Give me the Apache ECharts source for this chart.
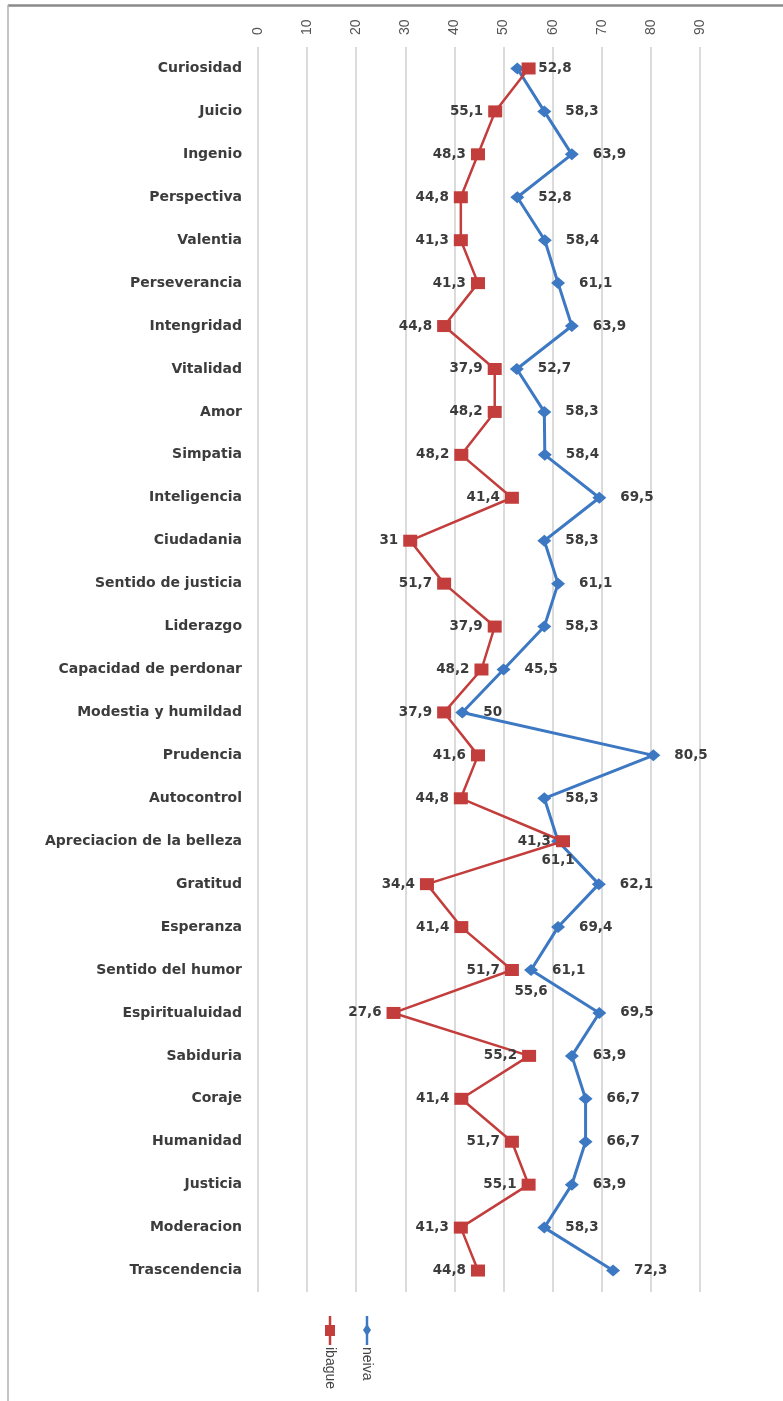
<!DOCTYPE html>
<html>
<head>
<meta charset="utf-8">
<script src="https://cdn.jsdelivr.net/npm/echarts@6/dist/echarts.min.js"></script>
<style>
html,body{margin:0;padding:0;background:#fff;}
#chart{width:783px;height:1401px;}
</style>
</head>
<body>
<div id="chart"></div>
<script>
const categories = ['Curiosidad','Juicio','Ingenio','Perspectiva','Valentia','Perseverancia','Intengridad','Vitalidad','Amor','Simpatia','Inteligencia','Ciudadania','Sentido de justicia','Liderazgo','Capacidad de perdonar','Modestia y humildad','Prudencia','Autocontrol','Apreciacion de la belleza','Gratitud','Esperanza','Sentido del humor','Espiritualuidad','Sabiduria','Coraje','Humanidad','Justicia','Moderacion','Trascendencia'];

const ibague = [55.1,48.3,44.8,41.3,41.3,44.8,37.9,48.2,48.2,41.4,51.7,31,37.9,48.2,45.5,37.9,44.8,41.3,62.1,34.4,41.4,51.7,27.6,55.2,41.4,51.7,55.1,41.3,44.8];
const neiva = [52.8,58.3,63.9,52.8,58.4,61.1,63.9,52.7,58.3,58.4,69.5,58.3,61.1,58.3,50,41.6,80.5,58.3,61.1,69.4,61.1,55.6,69.5,63.9,66.7,66.7,63.9,58.3,72.3];

const ibagueLabels = ['','55,1','48,3','44,8','41,3','41,3','44,8','37,9','48,2','48,2','41,4','31','51,7','37,9','48,2','37,9','41,6','44,8','41,3','34,4','41,4','51,7','27,6','55,2','41,4','51,7','55,1','41,3','44,8'];
const neivaLabels = ['52,8','58,3','63,9','52,8','58,4','61,1','63,9','52,7','58,3','58,4','69,5','58,3','61,1','58,3','45,5','50','80,5','58,3','61,1','62,1','69,4','61,1','69,5','63,9','66,7','66,7','63,9','58,3','72,3'];

// extra free label shown under the neiva point of "Sentido del humor"
const extraCats = ['Sentido del humor'];
const extraVals = [55.6];
const extraTexts = ['55,6'];

const seriesNames = ['ibague','neiva'];
const axisMin = 0, axisMax = 90, axisStep = 10;

const RED = '#c23d3b';
const BLUE = '#3d78c3';
const LABEL_FONT = {fontFamily:'DejaVu Sans', fontWeight:'bold', fontSize:13.5, color:'#3c3c3c'};

const chart = echarts.init(document.getElementById('chart'), null, {renderer:'canvas'});

const neivaData = neiva.map((v,i) => {
  if (categories[i] === 'Apreciacion de la belleza') {
    return {value:v, label:{position:'bottom', distance:6}};
  }
  return v;
});

const option = {
  animation:false,
  backgroundColor:'#fff',
  grid:{left:258, right:83, top:47, bottom:109, containLabel:false},
  xAxis:{
    type:'value', position:'top', min:axisMin, max:axisMax, interval:axisStep,
    axisLine:{show:false}, axisTick:{show:false},
    splitLine:{show:true, lineStyle:{color:'#cfcfcf', width:1.5}},
    axisLabel:{rotate:-90, margin:12, color:'#555', fontSize:14, fontFamily:'Liberation Sans'}
  },
  yAxis:{
    type:'category', inverse:true, data:categories,
    axisLine:{show:false}, axisTick:{show:false}, splitLine:{show:false},
    axisLabel:Object.assign({margin:16}, LABEL_FONT, {fontSize:14})
  },
  series:[
    {
      name:'extra', type:'scatter', symbol:'circle', symbolSize:1,
      itemStyle:{color:BLUE, opacity:1},
      data:extraCats.map((c,i) => [extraVals[i], c]),
      label:Object.assign({show:true, position:'bottom', distance:14, opacity:1,
        formatter:p => extraTexts[p.dataIndex]}, LABEL_FONT),
      z:1
    },
    {
      name:seriesNames[1], type:'line', data:neivaData,
      symbol:'diamond', symbolSize:[14,12], showAllSymbol:true,
      lineStyle:{color:BLUE, width:3}, itemStyle:{color:BLUE},
      label:Object.assign({show:true, position:'right', distance:14,
        formatter:p => neivaLabels[p.dataIndex]}, LABEL_FONT),
      z:2
    },
    {
      name:seriesNames[0], type:'line', data:ibague,
      symbol:'rect', symbolSize:[14,12], showAllSymbol:true,
      lineStyle:{color:RED, width:2.5}, itemStyle:{color:RED},
      label:Object.assign({show:true, position:'left', distance:5,
        formatter:p => ibagueLabels[p.dataIndex]}, LABEL_FONT),
      z:3
    }
  ],
  graphic:[
    {type:'line', shape:{x1:8, y1:5.5, x2:783, y2:5.5}, style:{stroke:'#8a8a8a', lineWidth:2.5}, silent:true},
    {type:'line', shape:{x1:8, y1:5, x2:8, y2:1401}, style:{stroke:'#b0b0b0', lineWidth:1.5}, silent:true},
    // rotated legend
    {type:'line', shape:{x1:330, y1:1316, x2:330, y2:1345}, style:{stroke:RED, lineWidth:2.5}, silent:true},
    {type:'rect', shape:{x:325, y:1325, width:10, height:11}, style:{fill:RED}, silent:true},
    {type:'text', x:330, y:1347, rotation:-Math.PI/2,
      style:{text:seriesNames[0], fill:'#444', font:'14px Liberation Sans', align:'left', verticalAlign:'middle'}, silent:true},
    {type:'line', shape:{x1:367, y1:1316, x2:367, y2:1345}, style:{stroke:BLUE, lineWidth:2.5}, silent:true},
    {type:'polygon', shape:{points:[[367,1324],[371,1330],[367,1336],[363,1330]]}, style:{fill:BLUE}, silent:true},
    {type:'text', x:367, y:1347, rotation:-Math.PI/2,
      style:{text:seriesNames[1], fill:'#444', font:'14px Liberation Sans', align:'left', verticalAlign:'middle'}, silent:true}
  ]
};
chart.setOption(option);
</script>
</body>
</html>
